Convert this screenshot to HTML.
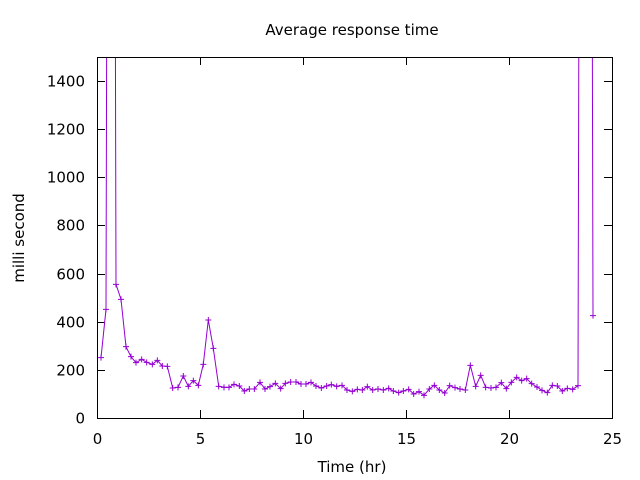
<!DOCTYPE html>
<html><head><style>
body{margin:0;background:#fff}
svg{display:block}
text{font-family:"DejaVu Sans","Liberation Sans",sans-serif;font-size:15px;fill:#000}
</style></head><body>
<svg id="s" width="640" height="480" xmlns="http://www.w3.org/2000/svg">
<defs><clipPath id="c"><rect x="97" y="57" width="515" height="361"/></clipPath></defs>
<text x="352" y="35" text-anchor="middle">Average response time</text>
<text x="352" y="472" text-anchor="middle">Time (hr)</text>
<text transform="translate(24,238) rotate(-90)" text-anchor="middle">milli second</text>
<g id="ax" stroke="#000" stroke-width="1" fill="none"></g>
<g id="lbl"></g>
<g clip-path="url(#c)"><polyline id="pl" fill="none" stroke="#9400d3" stroke-width="1"/><g id="mk" stroke="#9400d3" stroke-width="1"></g></g>
<rect x="97.5" y="57.5" width="515" height="361" fill="none" stroke="#000"/>
</svg>
<script>
var z1=[[33,263],[48,118],[63,-6000],[78,43],[93,88],[108,230],[123,260],[138,278],[155,268],[170,277],[187,283],[202,271],[217,288],[232,289],[248,354],[264,352],[280,318],[295,349],[310,332],[325,346],[340,283],[355,150],[370,235],[386,349],[402,352],[417,352],[432,343],[448,348],[463,363],[478,357],[493,357],[510,337],[525,357],[540,350],[556,340],[572,356],[586,340],[602,336],[618,336],[633,342],[648,342],[663,337],[678,348],[694,354],[710,348],[724,344],[740,349],[756,346],[771,360],[787,364]];
var z2=[[22,358],[37,360],[52,350],[68,360],[84,357],[100,360],[116,355],[130,363],[146,368],[160,363],[176,358],[191,372],[207,365],[222,376],[238,357],[253,346],[268,360],[284,369],[299,347],[315,353],[330,357],[346,360],[361,286],[377,349],[392,316],[407,352],[423,354],[438,352],[454,338],[469,356],[484,337],[500,322],[515,332],[530,326],[545,341],[561,351],[576,361],[592,368],[607,346],[622,348],[637,363],[652,355],[668,358],[684,347],[699,-6000],[714,-6000],[729,137]];
var pts=[];z1.forEach(function(p){pts.push([90+p[0]/3,270+p[1]/3]);});z2.forEach(function(p){pts.push([350+p[0]/3,270+p[1]/3]);});
document.getElementById('pl').setAttribute('points',pts.map(function(p){return p[0].toFixed(1)+','+p[1].toFixed(1)}).join(' '));
var mk='';pts.forEach(function(p){if(p[1]>0)mk+='<path d="M'+(p[0]-3)+','+p[1]+'h6M'+p[0]+','+(p[1]-3)+'v6"/>';});
document.getElementById('mk').innerHTML=mk;
var ax='',lb='';
for(var v=0;v<=1400;v+=200){var y=418-v*361/1500;y=Math.round(y)+0.5;ax+='<path d="M97,'+y+'h8M612,'+y+'h-8"/>';lb+='<text x="85" y="'+(y+5)+'" text-anchor="end">'+v+'</text>';}
for(var t=0;t<=25;t+=5){var x=Math.round(97+t*515/25)+0.5;ax+='<path d="M'+x+',418v-8M'+x+',57v8"/>';lb+='<text x="'+x+'" y="444" text-anchor="middle">'+t+'</text>';}
document.getElementById('ax').innerHTML=ax;document.getElementById('lbl').innerHTML=lb;
</script>
</body></html>
